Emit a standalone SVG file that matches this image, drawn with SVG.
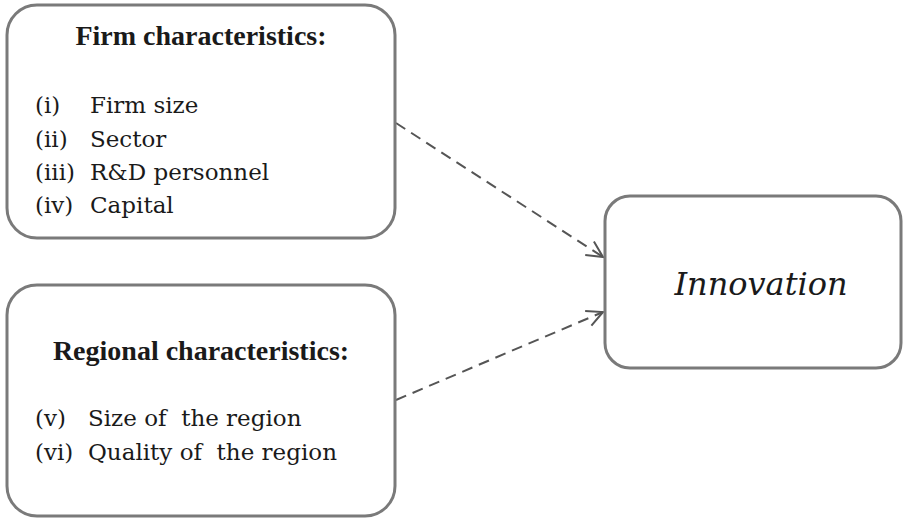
<svg xmlns="http://www.w3.org/2000/svg" width="905" height="518" viewBox="0 0 905 518">
<style>
.box{fill:#fff;stroke:#7a7a7a;stroke-width:3}
text{font-family:"Liberation Serif","DejaVu Serif",serif;fill:#1a1a1a;white-space:pre}
.h{font-size:28px;font-weight:bold;text-anchor:middle}
.it{font-family:"DejaVu Serif",serif;font-size:23px}
.inn{font-family:"DejaVu Serif",serif;font-size:32px;font-style:italic;text-anchor:middle}
.conn{fill:none;stroke:#555;stroke-width:2;stroke-dasharray:11 7}
</style>
<defs>
<marker id="arr" markerUnits="userSpaceOnUse" markerWidth="24" markerHeight="24" refX="20" refY="10" orient="auto" viewBox="0 0 24 20">
<path d="M4,2 L20,10 L4,18" fill="none" stroke="#555" stroke-width="2"/>
</marker>
</defs>
<rect width="905" height="518" fill="#fff"/>
<g id="connectors">
<path class="conn" d="M396,123 L603,257" marker-end="url(#arr)"/>
<path class="conn" d="M396,400 L603,312" marker-end="url(#arr)"/>
</g>
<g id="firm">
<rect class="box" x="7" y="5" width="388" height="233" rx="30"/>
<text class="h" x="201" y="45">Firm characteristics:</text>
<text class="it" x="35" y="113">(i)</text><text class="it" x="90" y="113">Firm size</text>
<text class="it" x="35" y="147">(ii)</text><text class="it" x="90" y="147">Sector</text>
<text class="it" x="35" y="180">(iii)</text><text class="it" x="90" y="180">R&amp;D personnel</text>
<text class="it" x="35" y="213">(iv)</text><text class="it" x="90" y="213">Capital</text>
</g>
<g id="regional">
<rect class="box" x="7" y="285" width="388" height="231" rx="30"/>
<text class="h" x="201" y="360">Regional characteristics:</text>
<text class="it" x="35" y="426">(v)</text><text class="it" x="88" y="426">Size of  the region</text>
<text class="it" x="35" y="460">(vi)</text><text class="it" x="88" y="460">Quality of  the region</text>
</g>
<g id="innovation">
<rect class="box" x="605" y="196" width="296" height="172" rx="25"/>
<text class="inn" x="761" y="295">Innovation</text>
</g>
</svg>
